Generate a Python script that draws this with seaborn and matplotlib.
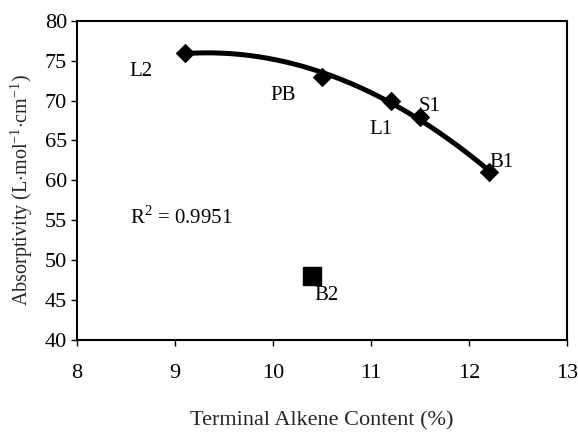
import numpy as np
import pandas as pd
import matplotlib
matplotlib.use("Agg")
import matplotlib.pyplot as plt
import seaborn as sns

# Data
names = ["L2", "PB", "L1", "S1", "B1"]
alkene = [9.1, 10.5, 11.2, 11.5, 12.2]
absorptivity = [76.0, 73.0, 70.0, 68.0, 61.0]
outlier_name = ["B2"]
outlier_x = [10.4]
outlier_y = [48.0]
r2_text = "R$^2$ = 0.9951"
x_ticks = [8, 9, 10, 11, 12, 13]
y_ticks = [40, 45, 50, 55, 60, 65, 70, 75, 80]

sns.set_theme(style="ticks")
plt.rcParams['font.family'] = ['Liberation Serif', 'DejaVu Serif']
plt.rcParams['mathtext.fontset'] = 'custom'
plt.rcParams['mathtext.rm'] = 'Liberation Serif'

FS_TICK = 16
FS_ANN = 15

df = pd.DataFrame({"x": alkene, "y": absorptivity, "name": names})
df_out = pd.DataFrame({"x": outlier_x, "y": outlier_y, "name": outlier_name})

fig = plt.figure(figsize=(5.78, 4.33), dpi=100)
ax = fig.add_axes([0.133, 0.215, 0.848, 0.737])

# quadratic trend line fitted to the data
coef = np.polyfit(df["x"], df["y"], 2)
xs = np.linspace(min(alkene), max(alkene), 200)
ax.plot(xs, np.polyval(coef, xs), color="black", lw=3.6, zorder=2)

sns.scatterplot(data=df, x="x", y="y", marker="D", s=85, color="black",
                edgecolor="black", ax=ax, zorder=3)
sns.scatterplot(data=df_out, x="x", y="y", marker="s", s=150, color="black",
                edgecolor="black", ax=ax, zorder=3)

label_pos = {"L2": (8.65, 73.6), "PB": (10.1, 70.6), "L1": (11.1, 66.4),
             "S1": (11.6, 69.2), "B1": (12.33, 62.2), "B2": (10.55, 45.6)}
for n in names + outlier_name:
    lx, ly = label_pos[n]
    ax.text(lx, ly, n, ha="center", va="center", fontsize=FS_ANN, color="black")

ax.text(8.54, 55.3, r2_text, ha="left", va="center", fontsize=FS_ANN, color="black")

ax.set_xlim(8, 13)
ax.set_ylim(40, 80)
ax.set_xticks(x_ticks)
ax.set_yticks(y_ticks)
ax.tick_params(axis="both", labelsize=FS_TICK, colors="black", direction="out",
               length=4, width=1)
ax.tick_params(axis="x", pad=13)
ax.tick_params(axis="y", pad=3)
for s in ax.spines.values():
    s.set_visible(True)
    s.set_color("black")
    s.set_linewidth(1.5)

ax.set_xlabel("Terminal Alkene Content (%)", fontsize=FS_TICK, labelpad=21)
ax.set_ylabel("Absorptivity (L$\\cdot$mol$^{\\mathregular{-1}}$$\\cdot$cm$^{\\mathregular{-1}}$)",
              fontsize=14.5)
ax.yaxis.set_label_coords(-0.085, 0.47)

fig.savefig("out.png", dpi=100)
